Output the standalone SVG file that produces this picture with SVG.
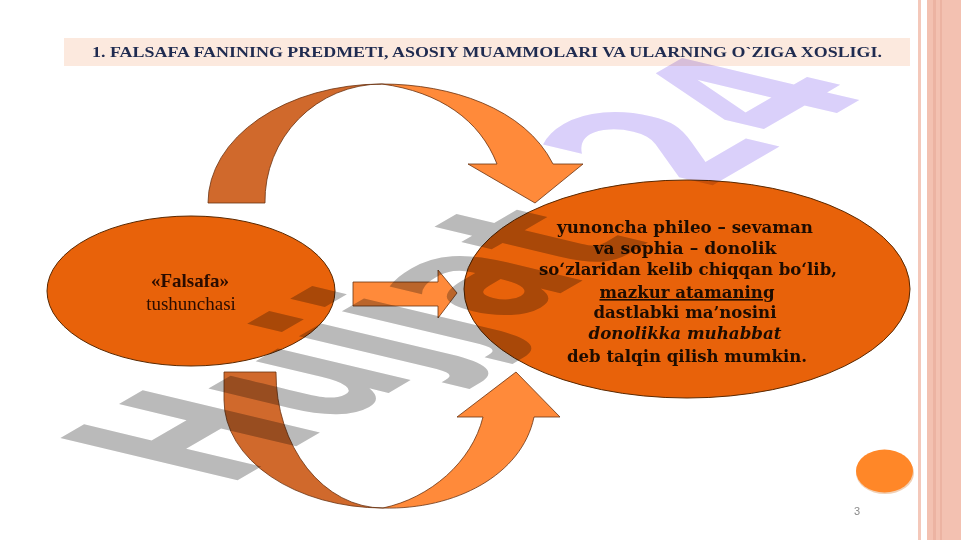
<svg xmlns="http://www.w3.org/2000/svg" width="961" height="540" viewBox="0 0 961 540">
<style>
.dark{fill:#D0692C;stroke:#6b3210;stroke-width:0.8}
.light{fill:#FF8A3A;stroke:#6b3210;stroke-width:0.8}
.ell{fill:#E8620A;stroke:#5a2800;stroke-width:1}
.rt{font-family:"DejaVu Serif",serif;font-weight:bold;font-size:16px;fill:#1e0c00;text-anchor:middle}
.lt{font-family:"Liberation Serif",serif;font-size:19px;fill:#2a0c00;text-anchor:middle}
.wm{font-family:"DejaVu Sans",sans-serif;font-weight:bold;font-size:100px}
</style>
<rect width="961" height="540" fill="#ffffff"/>
<g id="border">
<rect x="918" y="0" width="3" height="540" fill="#F4C8BA"/>
<rect x="927" y="0" width="34" height="540" fill="#F3C1B1"/>
<rect x="933" y="0" width="3" height="540" fill="#ECB3A2"/>
<rect x="940" y="0" width="2" height="540" fill="#ECB3A2"/>
</g>
<g id="title">
<rect x="64" y="38" width="846" height="28" fill="#FCE9DE"/>
<text x="487" y="57" font-family="Liberation Serif,serif" font-weight="bold" font-size="14.5" fill="#1f2b50" text-anchor="middle" textLength="790" lengthAdjust="spacingAndGlyphs">1. FALSAFA FANINING PREDMETI, ASOSIY MUAMMOLARI VA ULARNING O`ZIGA XOSLIGI.</text>
</g>
<g id="connectors">
<g id="arrow-top">
<path class="dark" d="M208,203 A174,119 0 0,1 382,84 A117,117 0 0,0 265,203 Z"/>
<path class="light" d="M382,84 C450,84 525,108 553,164 L583,164 L535,203 L468,164 L497,164 C480,120 440,92 382,84 Z"/>
</g>
<g id="arrow-bottom">
<path class="dark" d="M224,372 L224,400 A159,108 0 0,0 383,508 A107,135 0 0,1 276,372 Z"/>
<path class="light" d="M383,508 C455,510 522,475 534,417 L560,417 L516,372 L457,417 L483,417 C472,462 430,498 383,508 Z"/>
</g>
<path id="arrow-mid" class="light" d="M353,282 L438,282 L438,270 L457,293 L438,318 L438,306 L353,306 Z"/>
</g>
<g id="node-falsafa">
<ellipse class="ell" cx="191" cy="291" rx="144" ry="75"/>
<text class="lt" x="190" y="287" font-weight="bold">«Falsafa»</text>
<text class="lt" x="191" y="310">tushunchasi</text>
</g>
<g id="node-meaning">
<ellipse class="ell" cx="687" cy="289" rx="223" ry="109"/>
<text class="rt" x="685" y="233" textLength="256" lengthAdjust="spacingAndGlyphs">yunoncha phileo – sevaman</text>
<text class="rt" x="685" y="254" textLength="183" lengthAdjust="spacingAndGlyphs">va sophia  – donolik</text>
<text class="rt" x="688" y="275" textLength="298" lengthAdjust="spacingAndGlyphs">so‘zlaridan kelib chiqqan bo‘lib,</text>
<text class="rt" x="687" y="298" textLength="175" lengthAdjust="spacingAndGlyphs" text-decoration="underline">mazkur atamaning</text>
<text class="rt" x="685" y="318" textLength="183" lengthAdjust="spacingAndGlyphs">dastlabki ma’nosini</text>
<text class="rt" x="685" y="339" font-style="italic" textLength="193" lengthAdjust="spacingAndGlyphs">donolikka muhabbat</text>
<text class="rt" x="687" y="362" textLength="240" lengthAdjust="spacingAndGlyphs">deb talqin qilish mumkin.</text>
</g>
<g id="badge">
<ellipse cx="885" cy="473" rx="29" ry="21" fill="#d8782c" opacity="0.35"/>
<ellipse cx="884.5" cy="471" rx="28.5" ry="21.5" fill="#FF8728"/>
<text x="857" y="515" font-family="Liberation Sans,Arial,sans-serif" font-size="11" fill="#8a8a8a" text-anchor="middle">3</text>
</g>
<g id="watermark" style="mix-blend-mode:multiply">
<text class="wm" transform="matrix(1.26,-0.73,2.43,0.58,226,487)"><tspan fill="#bababa">Hujjat</tspan><tspan fill="#DAD0FA" dx="59" dy="-10">24</tspan></text>
</g>
</svg>
